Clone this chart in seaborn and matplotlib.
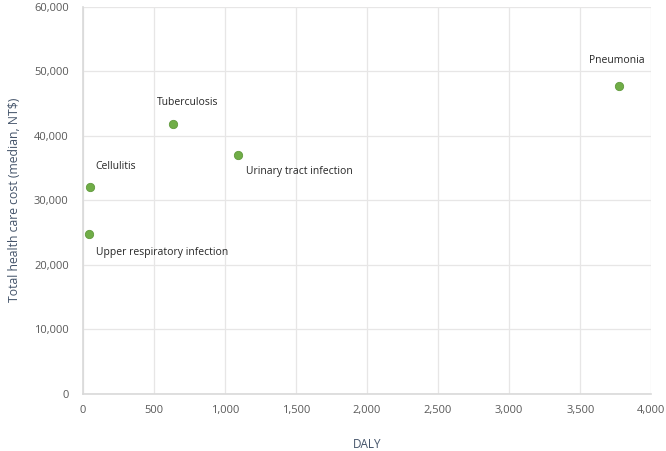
import matplotlib
matplotlib.use("Agg")
import matplotlib.pyplot as plt
import matplotlib.ticker as ticker
import seaborn as sns
import pandas as pd

# values
diseases = ["Pneumonia", "Tuberculosis", "Urinary tract infection", "Cellulitis", "Upper respiratory infection"]
daly = [3775, 634, 1096, 54, 45]
cost = [47750, 41860, 36950, 32090, 24760]

df = pd.DataFrame({"Disease": diseases, "DALY": daly, "Cost": cost})

sns.set_theme(style="white")
plt.rcParams["font.family"] = ["Open Sans", "DejaVu Sans"]

fig, ax = plt.subplots(figsize=(6.66, 4.51), dpi=100)
fig.subplots_adjust(left=0.124, right=0.978, top=0.985, bottom=0.127)

sns.scatterplot(data=df, x="DALY", y="Cost", ax=ax, s=36,
                color="#70AD47", edgecolor="#60993C", linewidth=0.6, zorder=3)

ax.set_xlim(0, 4000)
ax.set_ylim(0, 60000)
ax.xaxis.set_major_locator(ticker.MultipleLocator(500))
ax.yaxis.set_major_locator(ticker.MultipleLocator(10000))
ax.xaxis.set_major_formatter(ticker.StrMethodFormatter("{x:,.0f}"))
ax.yaxis.set_major_formatter(ticker.StrMethodFormatter("{x:,.0f}"))

ax.grid(True, color="#E7E6E6", linewidth=0.9)
ax.set_axisbelow(True)
for side in ["top", "right"]:
    ax.spines[side].set_visible(False)
for side in ["left", "bottom"]:
    ax.spines[side].set_color("#D9D9D9")
    ax.spines[side].set_linewidth(1.2)

ax.tick_params(axis="both", labelsize=8, colors="#595959", length=0)
ax.tick_params(axis="x", pad=8)
ax.tick_params(axis="y", pad=10)
ax.set_xlabel("DALY", fontsize=8.5, color="#44546A", labelpad=16)
ax.set_ylabel("Total health care cost (median, NT$)", fontsize=8.8, color="#44546A", labelpad=9)

# label offsets in pixels (dx, dy, ha)
offsets = {
    "Pneumonia": (-3, 25, "center"),
    "Tuberculosis": (15, 21, "center"),
    "Urinary tract infection": (8, -16, "left"),
    "Cellulitis": (5, 20, "left"),
    "Upper respiratory infection": (7, -18, "left"),
}
for name, x, y in zip(diseases, daly, cost):
    dx, dy, ha = offsets[name]
    ax.annotate(name, (x, y), xytext=(dx, dy), textcoords="offset pixels",
                ha=ha, va="center", fontsize=7.5, color="#262626")

fig.savefig("out.png", dpi=100)
